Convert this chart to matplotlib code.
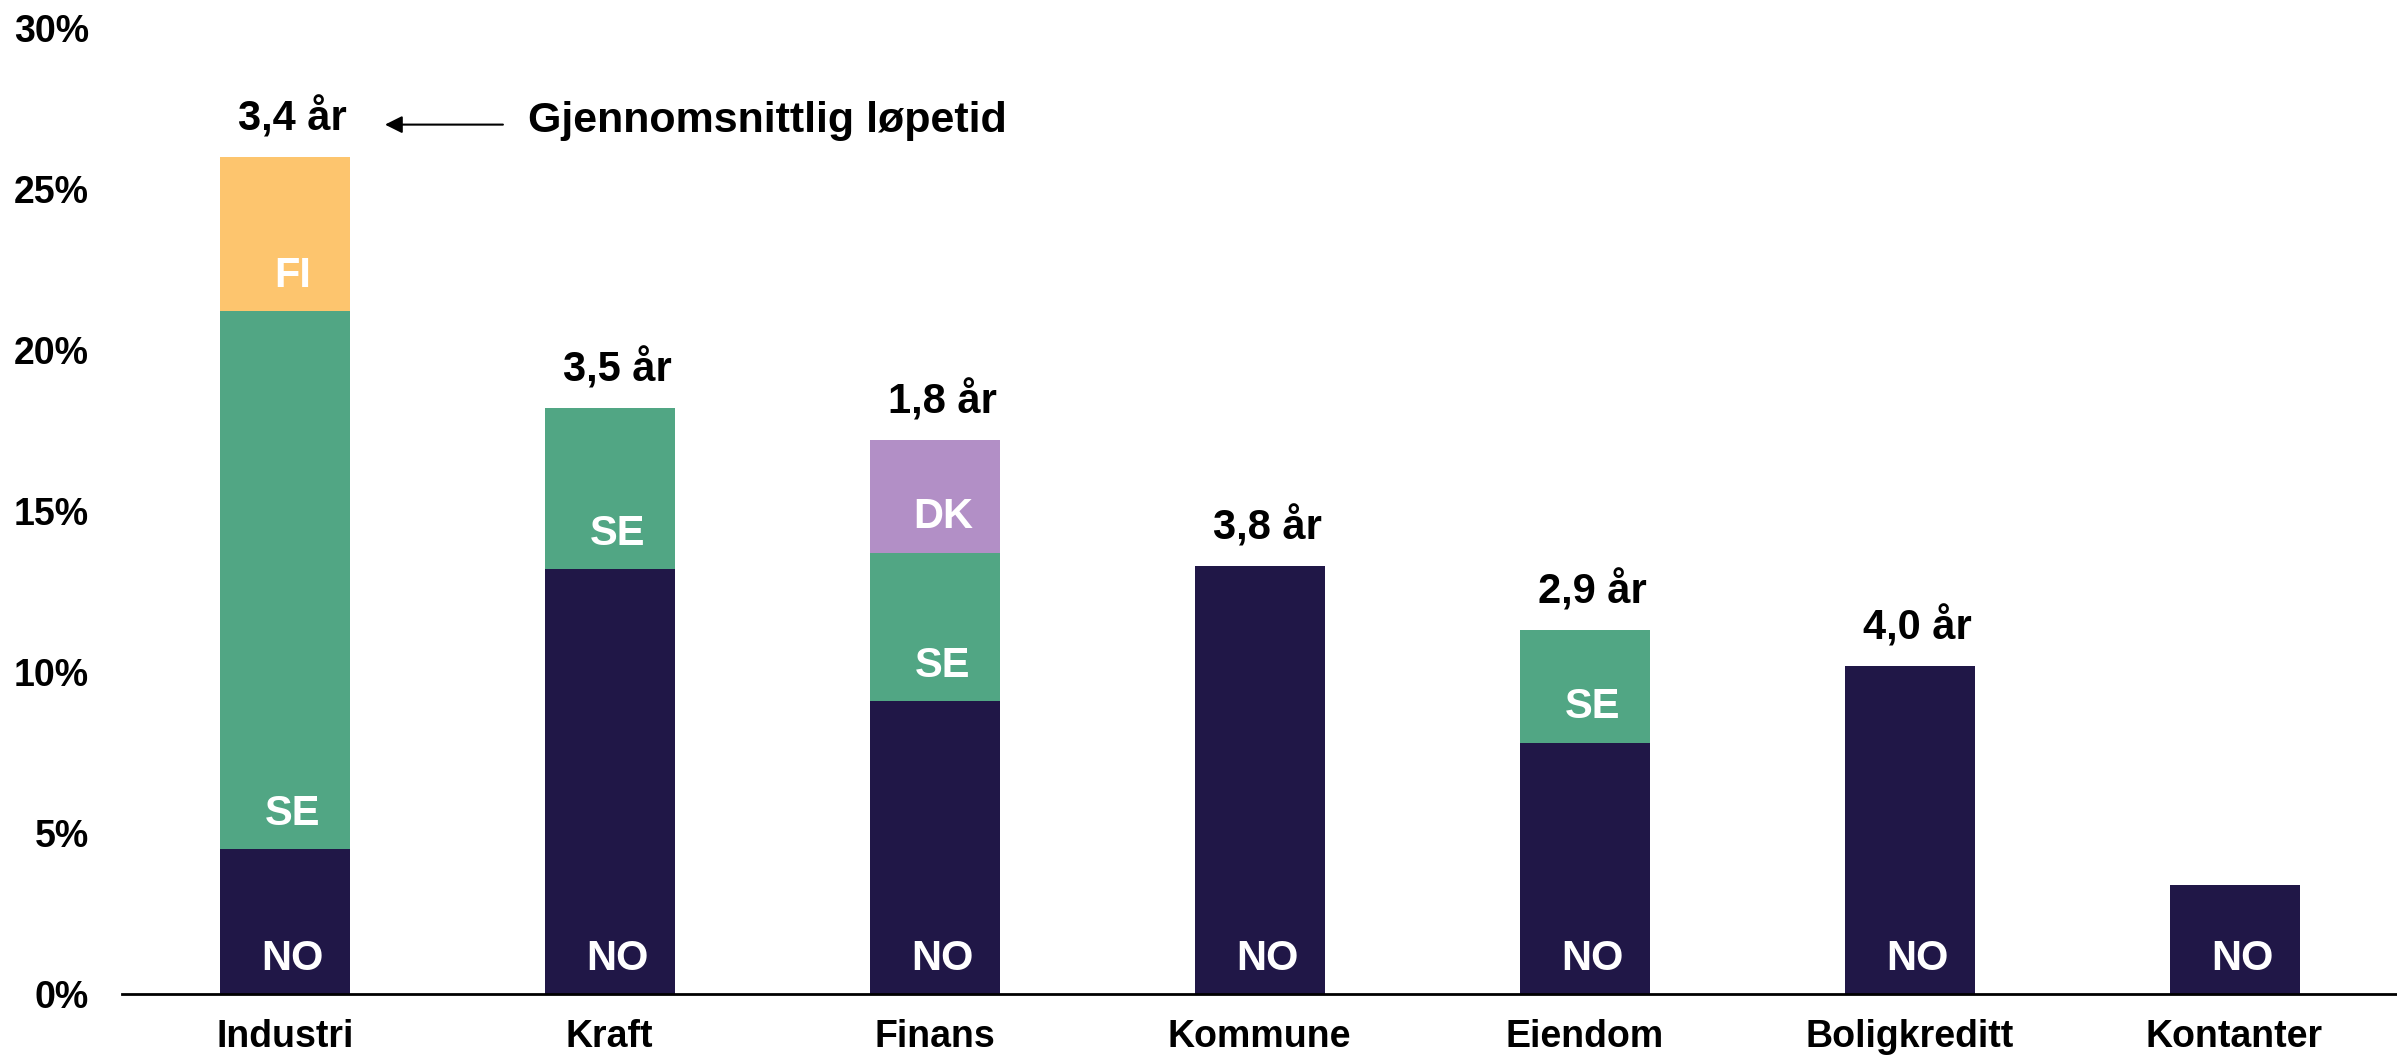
import numpy as np
import matplotlib
matplotlib.use("Agg")
import matplotlib.pyplot as plt
from matplotlib.ticker import FuncFormatter

plt.rcParams['font.family'] = ['Liberation Sans Narrow', 'Liberation Sans', 'DejaVu Sans']
plt.rcParams['font.weight'] = 'bold'

# Sector exposure by country (% of portfolio)
sectors   = ['Industri', 'Kraft', 'Finans', 'Kommune', 'Eiendom', 'Boligkreditt', 'Kontanter']
no_share  = [4.5, 13.2, 9.1, 13.3, 7.8, 10.2, 3.4]
se_share  = [16.7, 5.0, 4.6, 0.0, 3.5, 0.0, 0.0]
dk_share  = [0.0, 0.0, 3.5, 0.0, 0.0, 0.0, 0.0]
fi_share  = [4.8, 0.0, 0.0, 0.0, 0.0, 0.0, 0.0]
durations = ['3,4 år', '3,5 år', '1,8 år', '3,8 år', '2,9 år', '4,0 år', None]

series = [('NO', no_share, '#201747'),
          ('SE', se_share, '#51a684'),
          ('DK', dk_share, '#b28fc6'),
          ('FI', fi_share, '#fdc56e')]

fs_axis = 27
fs_lab = 30
width = 0.4
dx = 0.025   # labels sit slightly right of bar centre
x = np.arange(len(sectors))

fig = plt.figure(figsize=(23.97, 10.57), dpi=100)
ax = fig.add_axes([0.051, 0.0596, 0.949, 0.9139])

bottom = np.zeros(len(sectors))
for name, vals, col in series:
    vals = np.array(vals)
    ax.bar(x, vals, width, bottom=bottom, color=col, linewidth=0)
    for i in range(len(sectors)):
        if vals[i] > 0:
            ax.text(x[i] + dx, bottom[i] + 1.1, name, color='white', fontsize=fs_lab,
                    fontweight='bold', ha='center', va='center')
    bottom = bottom + vals

for i, d in enumerate(durations):
    if d:
        ax.text(x[i] + dx, bottom[i] + 1.2, d, fontsize=fs_lab, fontweight='bold',
                ha='center', va='center')

# arrow pointing at the first duration label
ax.annotate('', xy=(0.3, 27.0), xytext=(0.68, 27.0),
            arrowprops=dict(arrowstyle='-|>', color='black', lw=1.5, mutation_scale=26))
ax.text(0.75, 27.1, 'Gjennomsnittlig løpetid', fontsize=31, fontweight='bold',
        ha='left', va='center')

ax.set_xlim(-0.5, 6.5)
ax.set_ylim(0, 30)
ax.set_yticks(np.arange(0, 31, 5))
ax.yaxis.set_major_formatter(FuncFormatter(lambda v, p: f'{v:.0f}%'))
ax.set_xticks(x)
ax.set_xticklabels(sectors)
ax.tick_params(axis='both', length=0, labelsize=fs_axis)
ax.tick_params(axis='y', pad=24)
ax.tick_params(axis='x', pad=18)
for lab in ax.get_xticklabels() + ax.get_yticklabels():
    lab.set_fontweight('bold')

for s in ['top', 'right', 'left']:
    ax.spines[s].set_visible(False)
ax.spines['bottom'].set_linewidth(2)
ax.spines['bottom'].set_color('black')

plt.savefig('out.png', dpi=100)
